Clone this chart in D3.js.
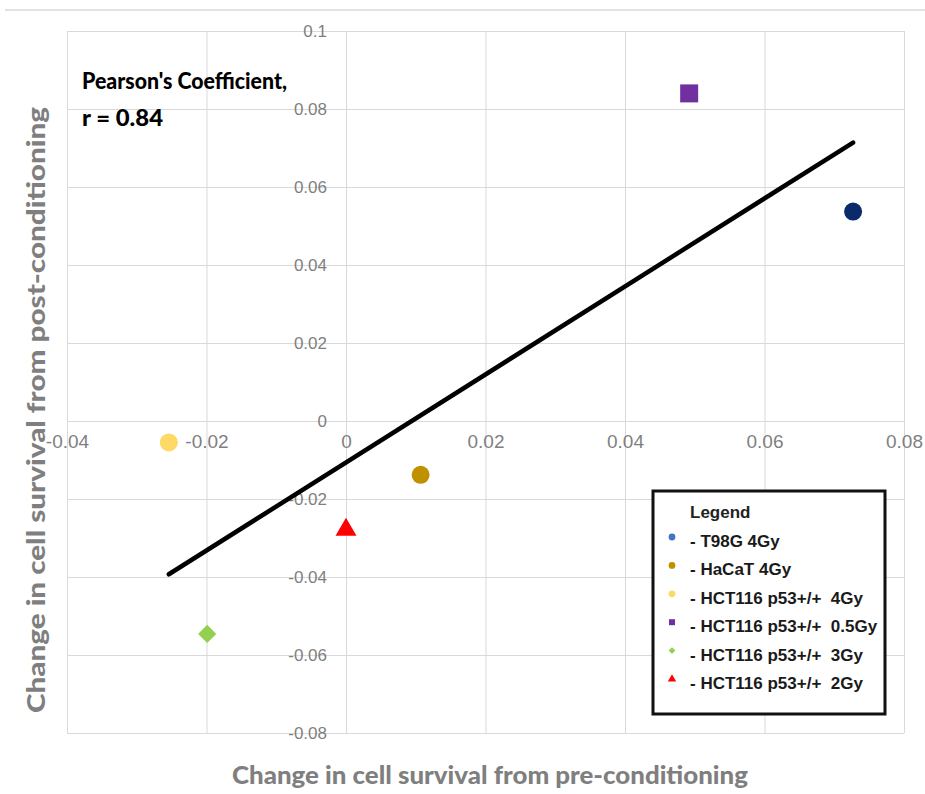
<!DOCTYPE html>
<html>
<head>
<meta charset="utf-8">
<script src="https://cdn.jsdelivr.net/npm/d3@7"></script>
<style>
  body { margin: 0; background: #fff; }
  svg { display: block; }
</style>
</head>
<body>
<div id="chart"></div>
<script>
// 1: DATA
const categories = ["T98G 4Gy", "HaCaT 4Gy", "HCT116 p53+/+  4Gy", "HCT116 p53+/+  0.5Gy", "HCT116 p53+/+  3Gy", "HCT116 p53+/+  2Gy"];
const preConditioning = [0.0727, 0.0107, -0.0254, 0.0492, -0.0199, 0.0000];
const postConditioning = [0.0537, -0.0138, -0.0055, 0.0840, -0.0546, -0.0279];
const pointColors = ["#0b2a6b", "#bf9000", "#ffd966", "#7030a0", "#92d050", "#ff0000"];
const legendColors = ["#4472c4", "#bf9000", "#ffd966", "#7030a0", "#92d050", "#ff0000"];
const shapes = ["circle", "circle", "circle", "square", "diamond", "triangle"];
const trendX = [-0.0254, 0.0727];
const trendY = [-0.0393, 0.0714];
const xTicks = [-0.04, -0.02, 0, 0.02, 0.04, 0.06, 0.08];
const yTicks = [-0.08, -0.06, -0.04, -0.02, 0, 0.02, 0.04, 0.06, 0.08, 0.1];

// 2: SVG + SCALES
const W = 925, H = 794;
const svg = d3.select("#chart").append("svg")
  .attr("width", W)
  .attr("height", H);

svg.append("rect").attr("width", W).attr("height", H).attr("fill", "#fff");

// thin header rule at the top
svg.append("line")
  .attr("x1", 5).attr("x2", W)
  .attr("y1", 10).attr("y2", 10)
  .attr("stroke", "#e2e2e2")
  .attr("stroke-width", 2);

const xScale = d3.scaleLinear().domain([-0.04, 0.08]).range([67, 904]);
const yScale = d3.scaleLinear().domain([-0.08, 0.1]).range([733, 31]);

// diamond = square turned 45 degrees, like the spreadsheet marker
const shapeType = {
  circle: d3.symbolCircle,
  square: d3.symbolSquare,
  diamond: d3.symbolSquare,
  triangle: d3.symbolTriangle
};
const shapeRotate = { circle: 0, square: 0, diamond: 45, triangle: 0 };

// 3: GRIDLINES
const gridColor = "#d9d9d9";

svg.append("g")
  .attr("transform", `translate(0,${yScale(-0.08)})`)
  .call(d3.axisBottom(xScale).tickValues(xTicks).tickSize(-(yScale(-0.08) - yScale(0.1))).tickFormat(""))
  .call(g => g.select(".domain").remove())
  .call(g => g.selectAll("line").attr("stroke", gridColor));

svg.append("g")
  .attr("transform", `translate(${xScale(-0.04)},0)`)
  .call(d3.axisLeft(yScale).tickValues(yTicks).tickSize(-(xScale(0.08) - xScale(-0.04))).tickFormat(""))
  .call(g => g.select(".domain").remove())
  .call(g => g.selectAll("line").attr("stroke", gridColor));

// 4: TICK LABELS (axes cross at zero)
svg.append("g")
  .attr("transform", `translate(0,${yScale(0)})`)
  .call(d3.axisBottom(xScale).tickValues(xTicks).tickSize(0).tickPadding(14).tickFormat(d => String(d)))
  .call(g => g.select(".domain").remove())
  .call(g => g.selectAll("text")
    .attr("fill", "#7f7f7f")
    .style("font-family", "'Liberation Sans Narrow', 'Arial Narrow', 'Liberation Sans', sans-serif")
    .style("font-size", "19px"));

svg.append("g")
  .attr("transform", `translate(${xScale(0)},0)`)
  .call(d3.axisLeft(yScale).tickValues(yTicks).tickSize(0).tickPadding(19).tickFormat(d => String(d)))
  .call(g => g.select(".domain").remove())
  .call(g => g.selectAll("text")
    .attr("fill", "#7f7f7f")
    .style("font-family", "'Liberation Sans', Arial, sans-serif")
    .style("font-size", "17px"));

// 5: TREND LINE
const line = d3.line()
  .x(d => xScale(d[0]))
  .y(d => yScale(d[1]));

svg.append("path")
  .datum(d3.zip(trendX, trendY))
  .attr("d", line)
  .attr("fill", "none")
  .attr("stroke", "#000")
  .attr("stroke-width", 4.5)
  .attr("stroke-linecap", "round");

// 6: POINTS
const points = categories.map((c, i) => ({
  name: c, x: preConditioning[i], y: postConditioning[i],
  color: pointColors[i], legendColor: legendColors[i], shape: shapes[i]
}));

const bigSize = { circle: 255, square: 324, diamond: 165, triangle: 190 };

svg.selectAll(".pt")
  .data(points)
  .enter()
  .append("path")
    .attr("class", "pt")
    .attr("transform", d => `translate(${xScale(d.x)},${yScale(d.y)}) rotate(${shapeRotate[d.shape]})`)
    .attr("d", d => d3.symbol().type(shapeType[d.shape]).size(bigSize[d.shape])())
    .attr("fill", d => d.color);

// 7: ANNOTATION
const note = svg.append("g")
  .style("font-family", "Lato, 'Open Sans', sans-serif")
  .style("font-weight", "900")
  .style("font-size", "23px")
  .attr("fill", "#000");
note.append("text").attr("x", 82).attr("y", 89)
  .attr("textLength", 205).attr("lengthAdjust", "spacingAndGlyphs")
  .text("Pearson's Coefficient,");
note.append("text").attr("x", 82).attr("y", 126)
  .attr("textLength", 81).attr("lengthAdjust", "spacingAndGlyphs")
  .text("r = 0.84");

// 8: AXIS TITLES
svg.append("text")
  .attr("x", 490).attr("y", 784)
  .attr("text-anchor", "middle")
  .attr("fill", "#7f7f7f")
  .attr("textLength", 516).attr("lengthAdjust", "spacingAndGlyphs")
  .style("font-family", "Lato, 'Open Sans', sans-serif")
  .style("font-weight", "900")
  .style("font-size", "24px")
  .text("Change in cell survival from pre-conditioning");

svg.append("text")
  .attr("transform", "translate(45,410) rotate(-90)")
  .attr("text-anchor", "middle")
  .attr("fill", "#7f7f7f")
  .attr("textLength", 606).attr("lengthAdjust", "spacingAndGlyphs")
  .style("font-family", "Lato, 'Open Sans', sans-serif")
  .style("font-weight", "900")
  .style("font-size", "25px")
  .text("Change in cell survival from post-conditioning");

// 9: LEGEND
const legend = svg.append("g").attr("transform", "translate(653,491)");
legend.append("rect")
  .attr("width", 232).attr("height", 223)
  .attr("fill", "#fff")
  .attr("stroke", "#111")
  .attr("stroke-width", 3);

const legendFont = "'Liberation Sans Narrow', 'Arial Narrow', 'Liberation Sans', sans-serif";
legend.append("text")
  .attr("x", 37).attr("y", 27)
  .attr("fill", "#222")
  .style("font-family", legendFont)
  .style("font-size", "17px")
  .style("font-weight", "bold")
  .text("Legend");

const smallSize = { circle: 36, square: 36, diamond: 22, triangle: 30 };
const rows = legend.selectAll(".row")
  .data(points)
  .enter()
  .append("g")
    .attr("class", "row")
    .attr("transform", (d, i) => `translate(0,${56 + i * 28.4})`);

rows.append("path")
  .attr("transform", d => `translate(19,-10) rotate(${shapeRotate[d.shape]})`)
  .attr("d", d => d3.symbol().type(shapeType[d.shape]).size(smallSize[d.shape])())
  .attr("fill", d => d.legendColor);

rows.append("text")
  .attr("x", 37)
  .attr("fill", "#1a1a1a")
  .attr("xml:space", "preserve")
  .style("white-space", "pre")
  .style("font-family", legendFont)
  .style("font-size", "17px")
  .style("font-weight", "bold")
  .text(d => "- " + d.name);
</script>
</body>
</html>
